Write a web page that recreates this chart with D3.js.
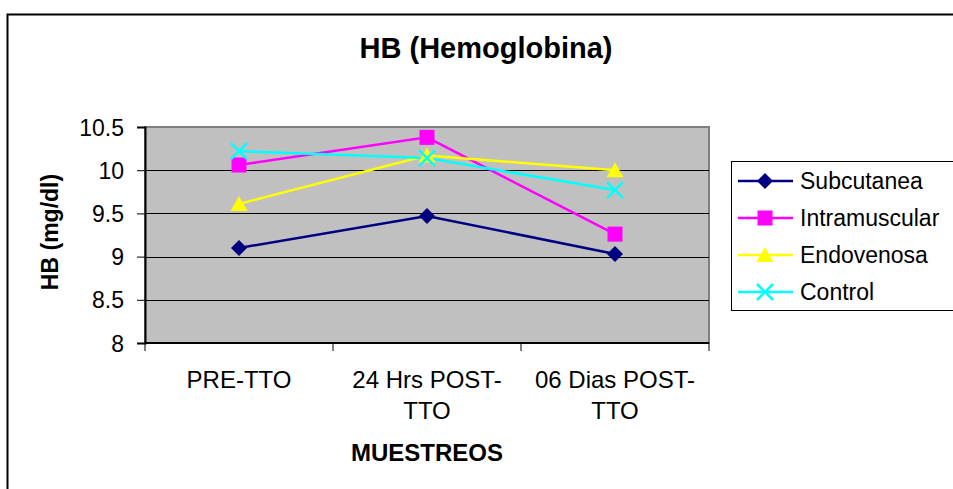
<!DOCTYPE html>
<html>
<head>
<meta charset="utf-8">
<script src="https://cdnjs.cloudflare.com/ajax/libs/d3/7.8.5/d3.min.js"></script>
<style>
  body { margin: 0; background: #fff; }
  text { font-family: "Liberation Sans", Arial, sans-serif; fill: #000; }
</style>
</head>
<body>
<div id="chart"></div>
<script>
var categories = [["PRE-TTO"], ["24 Hrs POST-", "TTO"], ["06 Dias POST-", "TTO"]];
var seriesNames = ["Subcutanea", "Intramuscular", "Endovenosa", "Control"];
var subcutanea = [9.10, 9.47, 9.03];
var intramuscular = [10.06, 10.38, 9.26];
var endovenosa = [9.61, 10.17, 10.00];
var control = [10.22, 10.14, 9.77];
var yTicks = [8, 8.5, 9, 9.5, 10, 10.5];

var colors = ["#000080", "#ff00ff", "#ffff00", "#00ffff"];
var markers = ["diamond", "square", "triangle", "cross"];
var allSeries = [subcutanea, intramuscular, endovenosa, control];

var W = 953, H = 489;
var plot = {left: 145, top: 127, right: 709, bottom: 343};

var svg = d3.select("#chart").append("svg")
    .attr("width", W)
    .attr("height", H);

// outer frame (right and bottom edges fall outside the picture)
svg.append("rect")
    .attr("x", 7.5).attr("y", 14.5)
    .attr("width", 960).attr("height", 500)
    .attr("fill", "#fff")
    .attr("stroke", "#000")
    .attr("stroke-width", 2);

var x = d3.scaleBand()
    .domain(d3.range(categories.length))
    .range([plot.left, plot.right]);

var y = d3.scaleLinear()
    .domain([8, 10.5])
    .range([plot.bottom, plot.top]);

// plot background
svg.append("rect")
    .attr("x", plot.left).attr("y", plot.top)
    .attr("width", plot.right - plot.left)
    .attr("height", plot.bottom - plot.top)
    .attr("fill", "#c0c0c0")
    .attr("stroke", "#808080")
    .attr("stroke-width", 2);

// gridlines
svg.append("g")
    .selectAll("line")
    .data(yTicks.slice(1, -1))
    .enter().append("line")
    .attr("x1", plot.left).attr("x2", plot.right)
    .attr("y1", function (d) { return Math.round(y(d)) + 0.5; })
    .attr("y2", function (d) { return Math.round(y(d)) + 0.5; })
    .attr("stroke", "#000")
    .attr("stroke-width", 1);

// y axis
var yAxis = svg.append("g")
    .attr("transform", "translate(" + plot.left + ",0)")
    .call(d3.axisLeft(y).tickValues(yTicks).tickSize(8).tickPadding(13)
        .tickFormat(function (d) { return d; }));
yAxis.select(".domain").attr("stroke", "#000").attr("stroke-width", 2);
yAxis.selectAll("line").attr("stroke", "#000");
yAxis.selectAll("text").style("font-size", "23px").attr("dy", "0.35em");

// x axis
var xAxis = svg.append("g")
    .attr("transform", "translate(0," + plot.bottom + ")");
xAxis.append("line")
    .attr("x1", plot.left).attr("x2", plot.right)
    .attr("stroke", "#000").attr("stroke-width", 2);
xAxis.selectAll(".tick")
    .data(d3.range(categories.length + 1))
    .enter().append("line")
    .attr("x1", function (i) { return i < categories.length ? x(i) : plot.right; })
    .attr("x2", function (i) { return i < categories.length ? x(i) : plot.right; })
    .attr("y1", 0).attr("y2", 8)
    .attr("stroke", "#000");
xAxis.selectAll(".lbl")
    .data(categories)
    .enter().append("text")
    .attr("text-anchor", "middle")
    .style("font-size", "24px")
    .attr("transform", function (d, i) {
        return "translate(" + (x(i) + x.bandwidth() / 2) + ",45)";
    })
    .each(function (d) {
        var t = d3.select(this);
        d.forEach(function (line, k) {
            t.append("tspan").attr("x", 0).attr("y", k * 31).text(line);
        });
    });

// titles
svg.append("text")
    .attr("x", 486).attr("y", 58)
    .attr("text-anchor", "middle")
    .style("font-size", "29px").style("font-weight", "bold")
    .text("HB (Hemoglobina)");

svg.append("text")
    .attr("transform", "translate(58,232) rotate(-90)")
    .attr("text-anchor", "middle")
    .style("font-size", "23px").style("font-weight", "bold")
    .text("HB (mg/dl)");

svg.append("text")
    .attr("x", 427).attr("y", 461)
    .attr("text-anchor", "middle")
    .style("font-size", "24px").style("font-weight", "bold")
    .text("MUESTREOS");

function drawMarker(g, type, color) {
    if (type === "diamond") {
        g.append("path").attr("d", "M0,-8L8,0L0,8L-8,0Z").attr("fill", color);
    } else if (type === "square") {
        g.append("rect").attr("x", -7.5).attr("y", -7.5).attr("width", 15).attr("height", 15).attr("fill", color);
    } else if (type === "triangle") {
        g.append("path").attr("d", "M0,-8L8.5,7L-8.5,7Z").attr("fill", color);
    } else {
        g.append("path").attr("d", "M-8,-8L8,8M-8,8L8,-8")
            .attr("stroke", color).attr("stroke-width", 2.5).attr("fill", "none");
    }
}

var line = d3.line()
    .x(function (d, i) { return x(i) + x.bandwidth() / 2; })
    .y(function (d) { return y(d); });

allSeries.forEach(function (vals, s) {
    svg.append("path")
        .datum(vals)
        .attr("d", line)
        .attr("fill", "none")
        .attr("stroke", colors[s])
        .attr("stroke-width", 2.5);
});
allSeries.forEach(function (vals, s) {
    vals.forEach(function (v, i) {
        var g = svg.append("g")
            .attr("transform", "translate(" + (x(i) + x.bandwidth() / 2) + "," + y(v) + ")");
        drawMarker(g, markers[s], colors[s]);
    });
});

// legend
var legend = svg.append("g");
legend.append("rect")
    .attr("x", 731.5).attr("y", 161.5)
    .attr("width", 240).attr("height", 149)
    .attr("fill", "#fff").attr("stroke", "#000").attr("stroke-width", 1);
seriesNames.forEach(function (name, s) {
    var cy = 181 + s * 37;
    var row = legend.append("g");
    row.append("line")
        .attr("x1", 738).attr("x2", 793)
        .attr("y1", cy).attr("y2", cy)
        .attr("stroke", colors[s]).attr("stroke-width", 2.5);
    drawMarker(row.append("g").attr("transform", "translate(765," + cy + ")"), markers[s], colors[s]);
    row.append("text")
        .attr("x", 800).attr("y", cy)
        .attr("dy", "0.35em")
        .style("font-size", "23px")
        .text(name);
});
</script>
</body>
</html>
